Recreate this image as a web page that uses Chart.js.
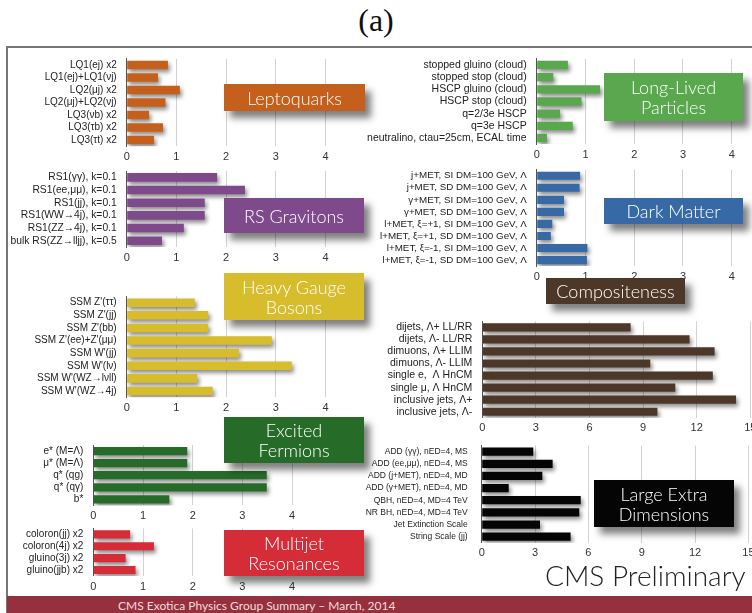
<!DOCTYPE html>
<html>
<head>
<meta charset="utf-8">
<script src="https://cdn.jsdelivr.net/npm/chart.js@4"></script>
<style>
body { margin: 0; width: 752px; height: 613px; overflow: hidden; background: #fff; position: relative; font-family: 'Liberation Sans', Arial, sans-serif; }
#title { position: absolute; left: 0; top: 2px; width: 752px; text-align: center; font-family: 'Liberation Serif', 'DejaVu Serif', serif; font-size: 32px; color: #111; }
#frame { position: absolute; left: 6px; top: 46px; width: 800px; height: 600px; border-left: 2px solid #777; border-top: 2px solid #777; }
canvas { position: absolute; }
.tag { position: absolute; z-index: 5; color: #fff; font-family: Lato, 'Open Sans', sans-serif; font-weight: 300; font-size: 18px; line-height: 20px; text-align: center; display: flex; align-items: center; justify-content: center; box-shadow: 6px 7px 7px rgba(0,0,0,0.5); }
#banner { position: absolute; left: 7px; top: 596px; width: 760px; height: 20px; background: #962f3e; color: #f3dcdc; font-family: Lato, sans-serif; font-size: 12px; z-index: 6; }
#banner span { position: absolute; left: 111px; top: 2px; }
#prelim { position: absolute; left: 545px; top: 558px; font-family: Lato, sans-serif; font-weight: 300; font-size: 28px; color: #222; z-index: 6; }
</style>
</head>
<body>
<div id="title">(a)</div>
<div id="frame"></div>
<div id="banner"><span>CMS Exotica Physics Group Summary – March, 2014</span></div>
<div id="prelim">CMS Preliminary</div>

<script>
// mass limits in TeV
const lqLabels = ['LQ1(ej) x2', 'LQ1(ej)+LQ1(νj)', 'LQ2(μj) x2', 'LQ2(μj)+LQ2(νj)', 'LQ3(νb) x2', 'LQ3(τb) x2', 'LQ3(τt) x2'];
const lqValues = [0.83, 0.63, 1.07, 0.78, 0.45, 0.73, 0.55];

const llLabels = ['stopped gluino (cloud)', 'stopped stop (cloud)', 'HSCP gluino (cloud)', 'HSCP stop (cloud)', 'q=2/3e HSCP', 'q=3e HSCP', 'neutralino, ctau=25cm, ECAL time'];
const llValues = [0.64, 0.34, 1.30, 0.92, 0.48, 0.74, 0.21];

const rsLabels = ['RS1(γγ), k=0.1', 'RS1(ee,μμ), k=0.1', 'RS1(jj), k=0.1', 'RS1(WW→4j), k=0.1', 'RS1(ZZ→4j), k=0.1', 'bulk RS(ZZ→lljj), k=0.5'];
const rsValues = [1.82, 2.38, 1.57, 1.57, 1.15, 0.71];

const dmLabels = ['j+MET, SI DM=100 GeV, Λ', 'j+MET, SD DM=100 GeV, Λ', 'γ+MET, SI DM=100 GeV, Λ', 'γ+MET, SD DM=100 GeV, Λ',
  'l+MET, ξ=+1, SI DM=100 GeV, Λ', 'l+MET, ξ=+1, SD DM=100 GeV, Λ', 'l+MET, ξ=-1, SI DM=100 GeV, Λ', 'l+MET, ξ=-1, SD DM=100 GeV, Λ'];
const dmValues = [0.89, 0.88, 0.56, 0.56, 0.32, 0.29, 1.04, 1.03];

const hgbLabels = ["SSM Z'(ττ)", "SSM Z'(jj)", "SSM Z'(bb)", "SSM Z'(ee)+Z'(μμ)", "SSM W'(jj)", "SSM W'(lν)", "SSM W'(WZ→lνll)", "SSM W'(WZ→4j)"];
const hgbValues = [1.37, 1.64, 1.64, 2.92, 2.26, 3.32, 1.42, 1.73];

const compLabels = ['dijets, Λ+ LL/RR', 'dijets, Λ- LL/RR', 'dimuons, Λ+ LLIM', 'dimuons, Λ- LLIM', 'single e,  Λ HnCM', 'single μ, Λ HnCM', 'inclusive jets, Λ+', 'inclusive jets, Λ-'];
const compValues = [8.3, 11.6, 13.0, 9.4, 12.9, 10.8, 14.2, 9.8];

const efLabels = ['e* (M=Λ)', 'μ* (M=Λ)', 'q* (qg)', 'q* (qγ)', 'b*'];
const efValues = [1.89, 1.89, 3.49, 3.49, 1.53];

const mjLabels = ['coloron(jj) x2', 'coloron(4j) x2', 'gluino(3j) x2', 'gluino(jjb) x2'];
const mjValues = [0.74, 1.22, 0.65, 0.85];

const ledLabels = ['ADD (γγ), nED=4, MS', 'ADD (ee,μμ), nED=4, MS', 'ADD (j+MET), nED=4, MD', 'ADD (γ+MET), nED=4, MD',
  'QBH, nED=4, MD=4 TeV', 'NR BH, nED=4, MD=4 TeV', 'Jet Extinction Scale', 'String Scale (jj)'];
const ledValues = [2.9, 3.99, 3.41, 1.52, 5.57, 5.49, 3.28, 5.0];

// soft drop shadow under the bars
const barShadow = {
  id: 'barShadow',
  beforeDatasetsDraw(chart) {
    const ctx = chart.ctx;
    ctx.save();
    ctx.shadowColor = 'rgba(0,0,0,0.45)';
    ctx.shadowBlur = 4;
    ctx.shadowOffsetX = 2;
    ctx.shadowOffsetY = 3;
  },
  afterDatasetsDraw(chart) { chart.ctx.restore(); }
};

function makePanel(labels, values, color, p) {
  const n = labels.length;
  const plotH = n * p.rowH;
  const axisH = 22;
  const cTop = Math.floor(p.top) - 3;
  const padTop = p.top - cTop;
  const yW = p.x0 - p.left;
  const plotW = p.max * p.ppu;
  const w = Math.ceil(yW + plotW + 14);
  const h = Math.ceil(padTop + plotH + axisH);

  const cv = document.createElement('canvas');
  cv.width = w; cv.height = h;
  cv.style.left = p.left + 'px';
  cv.style.top = cTop + 'px';
  cv.style.width = w + 'px';
  cv.style.height = h + 'px';
  document.body.appendChild(cv);

  new Chart(cv, {
    type: 'bar',
    data: {
      labels: labels,
      datasets: [{ data: values, backgroundColor: color, categoryPercentage: 1, barPercentage: 0.68 }]
    },
    plugins: [barShadow],
    options: {
      indexAxis: 'y',
      responsive: false,
      animation: false,
      layout: { padding: { top: padTop, left: 0, right: w - yW - plotW, bottom: h - padTop - plotH - axisH } },
      plugins: { legend: { display: false }, tooltip: { enabled: false } },
      scales: {
        x: {
          min: 0, max: p.max,
          afterFit(s) { s.height = axisH; s.paddingLeft = 0; s.paddingRight = 0; },
          grid: { color: '#d2d2d2', lineWidth: 1, drawTicks: false },
          border: { display: false },
          ticks: { stepSize: p.step, includeBounds: false, padding: 4, color: '#333', font: { family: 'Liberation Sans', size: 11 } }
        },
        y: {
          afterFit(s) { s.width = yW; s.paddingTop = 0; s.paddingBottom = 0; },
          grid: { display: false, drawTicks: false },
          border: { display: true, color: '#555', width: 1 },
          ticks: { autoSkip: false, padding: p.pad || 10, color: '#222', font: { family: 'Liberation Sans', size: p.font || 10 } }
        }
      }
    }
  });
}

makePanel(lqLabels, lqValues, '#c4601c', { left: 0, x0: 126.7, ppu: 49.7, max: 4.9, step: 1, top: 58.75, rowH: 12.5 });
makePanel(llLabels, llValues, '#59a84e', { left: 330, x0: 536.7, ppu: 48.75, max: 4.9, step: 1, top: 58.9, rowH: 12.17, font: 10.5 });
makePanel(rsLabels, rsValues, '#7e4a8c', { left: 0, x0: 126.7, ppu: 49.7, max: 4.9, step: 1, top: 171, rowH: 12.68, font: 10.3 });
makePanel(dmLabels, dmValues, '#3769a6', { left: 330, x0: 536.7, ppu: 48.75, max: 4.9, step: 1, top: 169.7, rowH: 12.05, font: 9.8 });
makePanel(hgbLabels, hgbValues, '#d7bc2c', { left: 0, x0: 126.7, ppu: 49.7, max: 4.9, step: 1, top: 296.4, rowH: 12.61 });
makePanel(compLabels, compValues, '#4c3728', { left: 330, x0: 482.3, ppu: 17.87, max: 15, step: 3, top: 321.3, rowH: 12.06, font: 10.5 });
makePanel(efLabels, efValues, '#266c28', { left: 0, x0: 93.3, ppu: 49.7, max: 4.9, step: 1, top: 445, rowH: 12.08 });
makePanel(mjLabels, mjValues, '#d62c38', { left: 0, x0: 93.3, ppu: 49.7, max: 4.9, step: 1, top: 528.4, rowH: 11.9 });
makePanel(ledLabels, ledValues, '#050505', { left: 330, x0: 481.7, ppu: 17.78, max: 15, step: 3, top: 445.6, rowH: 12.14, font: 8.5, pad: 14 });

const tags = [
  ['Leptoquarks', 224, 84, 141, 27, '#c4601c'],
  ['Long-Lived<br>Particles', 604, 73, 139, 48, '#59a84e'],
  ['RS Gravitons', 224, 198, 140, 35, '#7e4a8c'],
  ['Dark Matter', 604, 198, 139, 26, '#3769a6'],
  ['Heavy Gauge<br>Bosons', 224, 273, 140, 47, '#d7bc2c'],
  ['Compositeness', 546, 278, 139, 26, '#4c3728'],
  ['Excited<br>Fermions', 224, 417, 140, 46, '#266c28'],
  ['Multijet<br>Resonances', 224, 530, 140, 46, '#d62c38'],
  ['Large Extra<br>Dimensions', 594, 480, 140, 47, '#050505']
];
tags.forEach(t => {
  const d = document.createElement('div');
  d.className = 'tag';
  d.innerHTML = t[0];
  d.style.left = t[1] + 'px';
  d.style.top = t[2] + 'px';
  d.style.width = t[3] + 'px';
  d.style.height = t[4] + 'px';
  d.style.background = t[5];
  document.body.appendChild(d);
});
</script>
</body>
</html>
